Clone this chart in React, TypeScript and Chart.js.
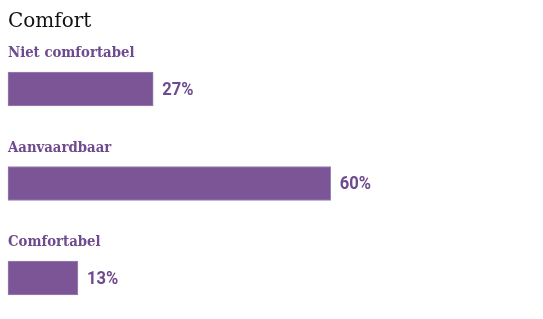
import React, { useEffect, useRef } from "react";
import { Chart, registerables } from "chart.js";

Chart.register(...registerables);

const title = "Comfort";
const categories = ["Niet comfortabel", "Aanvaardbaar", "Comfortabel"];
const values = [27, 60, 13];
const valueLabels = ["27%", "60%", "13%"];

const textColor = "#6e4a8e";
const barColor = "#7b5596";
const barBorder = "#9a80b3";

const labelPlugin = {
  id: "labelPlugin",
  afterDraw(chart: any) {
    const ctx = chart.ctx;
    const meta = chart.getDatasetMeta(0);
    ctx.save();
    ctx.fillStyle = "#111";
    ctx.font = "20px 'DejaVu Serif'";
    ctx.textBaseline = "alphabetic";
    ctx.textAlign = "left";
    ctx.fillText(title, 8, 27);
    meta.data.forEach((bar: any, i: number) => {
      const top = bar.y - bar.height / 2;
      ctx.fillStyle = textColor;
      ctx.font = "bold 15px 'DejaVu Serif'";
      ctx.textBaseline = "alphabetic";
      ctx.save();
      ctx.translate(8, top - 15);
      ctx.scale(0.885, 1);
      ctx.fillText(categories[i], 0, 0);
      ctx.restore();
      ctx.font = "bold 18px Roboto";
      ctx.textBaseline = "middle";
      ctx.save();
      ctx.translate(bar.x + 9, bar.y + 1);
      ctx.scale(0.92, 1);
      ctx.fillText(valueLabels[i], 0, 0);
      ctx.restore();
    });
    ctx.restore();
  },
};

export default function App() {
  const ref = useRef<HTMLCanvasElement>(null);
  useEffect(() => {
    if (!ref.current) return;
    const chart = new Chart(ref.current, {
      type: "bar",
      data: {
        labels: categories,
        datasets: [
          {
            data: values,
            backgroundColor: barColor,
            borderColor: barBorder,
            borderWidth: 1,
            borderSkipped: false,
            barThickness: 34,
            clip: false as any,
          },
        ],
      },
      options: {
        indexAxis: "y",
        responsive: true,
        maintainAspectRatio: false,
        animation: false,
        layout: { padding: { top: 89, bottom: 41, left: 8, right: 8 } },
        plugins: { legend: { display: false }, tooltip: { enabled: false }, title: { display: false } },
        scales: {
          x: { display: false, min: 0, max: 98 },
          y: { display: false, offset: false },
        },
      },
      plugins: [labelPlugin],
    });
    return () => chart.destroy();
  }, []);
  return (
    <div style={{ position: "fixed", left: 0, top: 0, width: 543, height: 319, background: "#fff" }}>
      <canvas ref={ref} />
    </div>
  );
}
